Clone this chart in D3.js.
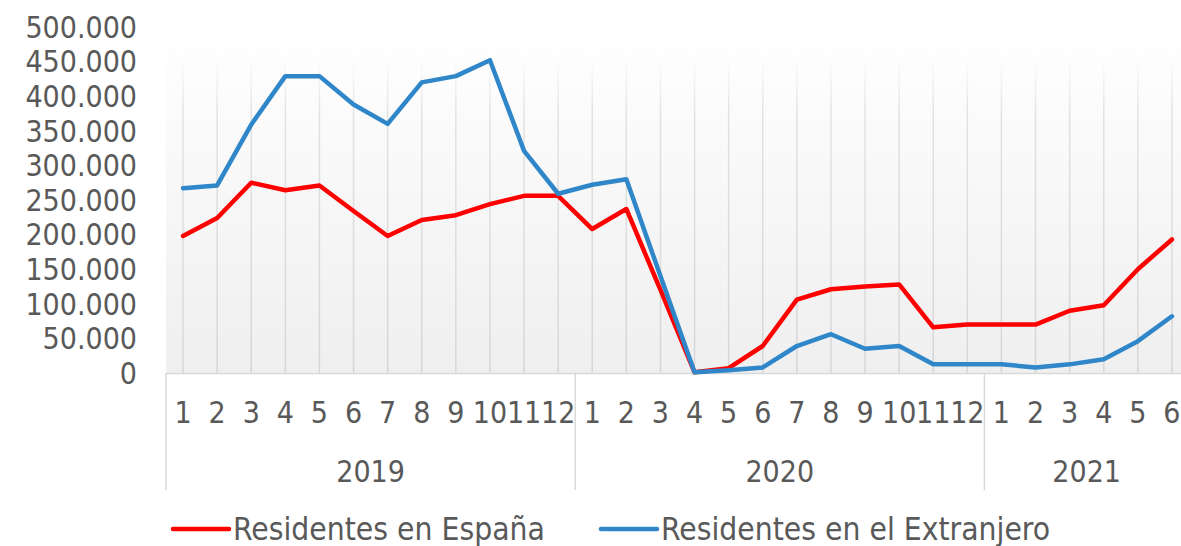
<!DOCTYPE html>
<meta charset="utf-8">
<head>
  <title>Residentes</title>
</head>
<style>
body { margin: 0; background: #fff; }
svg { display: block; }
text { font-family: "DejaVu Sans Condensed", "DejaVu Sans", sans-serif; fill: #595959; }
</style>
<body>
<svg width="1181" height="546"></svg>
<script src="https://cdnjs.cloudflare.com/ajax/libs/d3/7.8.5/d3.min.js"></script>
<script>
var years = ["2019", "2020", "2021"];
var monthsPerYear = [12, 12, 6];
var yTicks = [0, 50000, 100000, 150000, 200000, 250000, 300000, 350000, 400000, 450000, 500000];

var espana = [198000, 224000, 275000, 264000, 271000, 234000, 198000, 221000, 228000, 244000, 256000, 256000,
              208000, 237000, 120000, 1000, 7000, 39000, 106000, 121000, 125000, 128000, 66000, 70000,
              70000, 70000, 90000, 98000, 150000, 193000];
var extranjero = [267000, 271000, 359000, 429000, 429000, 388000, 360000, 420000, 429000, 452000, 321000, 259000,
                  272000, 280000, 140000, 1000, 4000, 8000, 39000, 56000, 35000, 39000, 12500, 12500,
                  12500, 8000, 12500, 20000, 46000, 82000];

var series = [
  {name: "Residentes en España", values: espana, color: "#ff0000"},
  {name: "Residentes en el Extranjero", values: extranjero, color: "#2f86c8"}
];

// one entry per month
var cats = [];
years.forEach(function(y, i) {
  for (var m = 1; m <= monthsPerYear[i]; m++) cats.push({year: y, month: m});
});

var svg = d3.select("svg");
var left = 166, bw = 34.1, right = left + bw * cats.length;
var x = d3.scaleBand().domain(d3.range(cats.length)).range([left, right]).paddingInner(0);
var y = d3.scaleLinear().domain([0, 500000]).range([373, 27]);
var cx = function(i) { return x(i) + x.bandwidth() / 2; };

var defs = svg.append("defs");
var bg = defs.append("linearGradient").attr("id", "bg")
  .attr("gradientUnits", "userSpaceOnUse").attr("x1", 0).attr("x2", 0).attr("y1", y(500000)).attr("y2", y(0));
bg.append("stop").attr("offset", "0").attr("stop-color", "#ffffff");
bg.append("stop").attr("offset", "1").attr("stop-color", "#efefef");
var gl = defs.append("linearGradient").attr("id", "gl")
  .attr("gradientUnits", "userSpaceOnUse").attr("x1", 0).attr("x2", 0).attr("y1", y(500000)).attr("y2", y(0));
gl.append("stop").attr("offset", "0").attr("stop-color", "#ffffff");
gl.append("stop").attr("offset", "0.08").attr("stop-color", "#ffffff");
gl.append("stop").attr("offset", "0.25").attr("stop-color", "#e2e2e2");
gl.append("stop").attr("offset", "1").attr("stop-color", "#d6d6d6");

svg.append("rect").attr("x", left).attr("y", y(500000)).attr("width", right - left)
  .attr("height", y(0) - y(500000)).attr("fill", "url(#bg)");

// vertical gridlines through each point
svg.append("g").selectAll("line").data(cats).join("line")
  .attr("x1", function(d, i) { return cx(i); }).attr("x2", function(d, i) { return cx(i); })
  .attr("y1", y(500000)).attr("y2", y(0))
  .attr("stroke", "url(#gl)").attr("stroke-width", 1.5);

// y axis labels
var fmt = function(v) { return d3.format(",")(v).replace(/,/g, "."); };
svg.append("g").selectAll("text").data(yTicks).join("text")
  .attr("x", 137).attr("y", function(d) { return y(d); }).attr("dy", "0.36em")
  .attr("text-anchor", "end").attr("font-size", 30).text(fmt);

// category axis
svg.append("line").attr("x1", left).attr("x2", right).attr("y1", 373.5).attr("y2", 373.5)
  .attr("stroke", "#d9d9d9").attr("stroke-width", 1.5);

var starts = [0];
monthsPerYear.forEach(function(n, i) { starts.push(starts[i] + n); });
svg.append("g").selectAll("line").data(starts).join("line")
  .attr("x1", function(d) { return d < cats.length ? x(d) : right; })
  .attr("x2", function(d) { return d < cats.length ? x(d) : right; })
  .attr("y1", 373).attr("y2", 490)
  .attr("stroke", "#d9d9d9").attr("stroke-width", 1.5);

svg.append("g").selectAll("text").data(cats).join("text")
  .attr("x", function(d, i) { return cx(i); }).attr("y", 412).attr("dy", "0.36em")
  .attr("text-anchor", "middle").attr("font-size", 30).text(function(d) { return d.month; });

svg.append("g").selectAll("text").data(years).join("text")
  .attr("x", function(d, i) { return (x(starts[i]) + (starts[i + 1] < cats.length ? x(starts[i + 1]) : right)) / 2; })
  .attr("y", 471).attr("dy", "0.36em")
  .attr("text-anchor", "middle").attr("font-size", 30).text(function(d) { return d; });

// lines
var line = d3.line().x(function(d, i) { return cx(i); }).y(function(d) { return y(d); });
svg.append("g").selectAll("path").data(series).join("path")
  .attr("d", function(s) { return line(s.values); })
  .attr("fill", "none").attr("stroke", function(s) { return s.color; })
  .attr("stroke-width", 4.5).attr("stroke-linejoin", "round").attr("stroke-linecap", "round");

// legend
var legX = [173, 601];
var leg = svg.append("g").selectAll("g").data(series).join("g")
  .attr("transform", function(d, i) { return "translate(" + legX[i] + ",529)"; });
leg.append("line").attr("x1", 0).attr("x2", 56).attr("stroke", function(d) { return d.color; })
  .attr("stroke-width", 4.5).attr("stroke-linecap", "round");
leg.append("text").attr("x", 60).attr("dy", "0.36em").attr("font-size", 31.5).text(function(d) { return d.name; });
</script>
</body>
</html>
